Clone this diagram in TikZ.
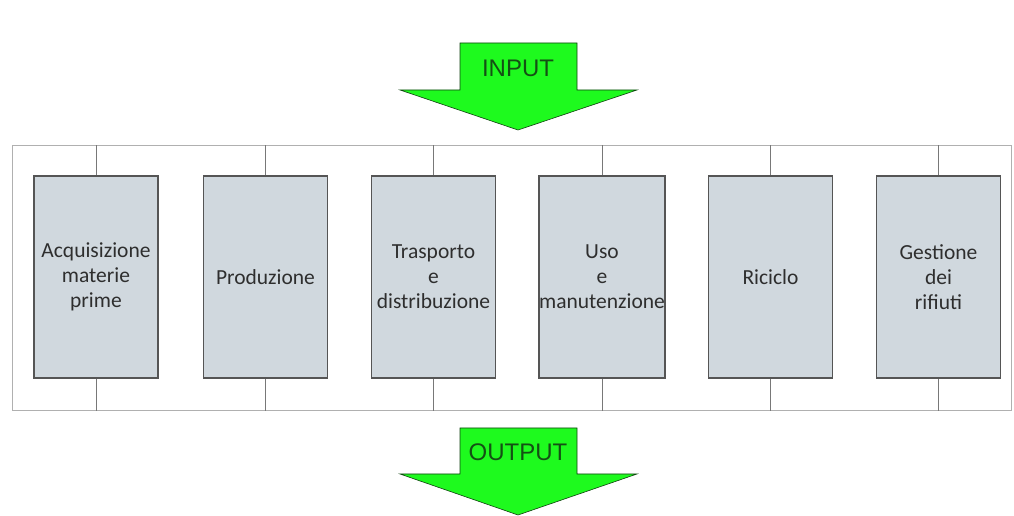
\documentclass[tikz,border=0pt]{standalone}
\usepackage{fontspec}
\setmainfont{Carlito}
\newfontfamily\arrowfont{Liberation Sans}
\usepackage{tikz}

\definecolor{boxgray}{RGB}{208,216,222}
\definecolor{boxedge}{RGB}{85,85,85}
\definecolor{framegray}{RGB}{176,176,176}
\definecolor{tickgray}{RGB}{120,120,120}
\definecolor{arrowgreen}{RGB}{30,250,30}
\definecolor{textgreen}{RGB}{20,80,20}

\begin{document}
\begin{tikzpicture}[x=1pt, y=1pt,
    phase/.style={draw=boxedge, line width=1.6pt, fill=boxgray, minimum width=124pt,
        minimum height=202pt, align=center, text=black!82, inner sep=0pt,
        font=\fontsize{21.5}{25}\selectfont},
    outerframe/.style={draw=framegray, line width=1pt, minimum width=999pt, minimum height=265pt},
    bigarrow/.style={fill=arrowgreen, draw=textgreen!80!black, line width=0.6pt},
    arrowtext/.style={text=textgreen, font=\arrowfont\fontsize{24}{28}\selectfont}]
    \useasboundingbox (0,0) rectangle (1014,516);

    % frame and phases
    \node[outerframe] (frame) at (511.5,237.5) {};
    \node[phase] (b1) at (96,239) {Acquisizione\\materie\\prime};
    \node[phase] (b2) at (265.5,239) {Produzione};
    \node[phase] (b3) at (433.5,239) {Trasporto\\e\\distribuzione};
    \node[phase] (b4) at (602,239) {Uso\\e\\manutenzione};
    \node[phase] (b5) at (770.5,239) {Riciclo};
    \node[phase] (b6) at (938.5,239) {Gestione\\dei\\rifiuti};

    \foreach \b in {b1,b2,b3,b4,b5,b6} {
        \draw[tickgray, line width=0.8pt] (\b.north) -- (\b.north |- frame.north);
        \draw[tickgray, line width=0.8pt] (\b.south) -- (\b.south |- frame.south);
    }

    % input / output
    \draw[bigarrow] (460,473) -- (577,473) -- (577,426) -- (637,426) -- (518,386)
            -- (400,426) -- (460,426) -- cycle;
    \node[arrowtext] (input) at (518,448) {INPUT};

    \draw[bigarrow] (460,88) -- (577,88) -- (577,42) -- (637,42) -- (518,1)
            -- (400,42) -- (460,42) -- cycle;
    \node[arrowtext] (output) at (518,64) {OUTPUT};
\end{tikzpicture}
\end{document}
